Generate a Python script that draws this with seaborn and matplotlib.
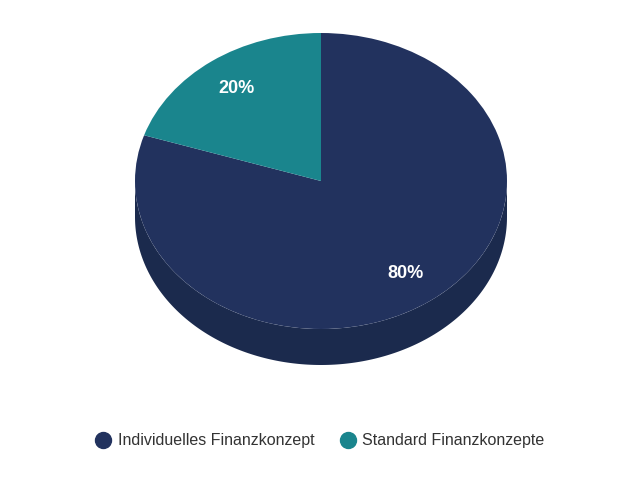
import numpy as np
import matplotlib
matplotlib.use("Agg")
import matplotlib.pyplot as plt
from matplotlib.lines import Line2D
import seaborn as sns

labels = ["Individuelles Finanzkonzept", "Standard Finanzkonzepte"]
values = [80, 20]
colors = ["#22325e", "#1a858d"]
side_color = "#1b2a4d"

sns.set_theme(style="white")
plt.rcParams["font.family"] = ["Liberation Sans", "DejaVu Sans"]

fig = plt.figure(figsize=(6.4, 4.8), dpi=100)
ax = fig.add_axes([0, 0, 1, 1])

# pixel geometry of the tilted pie
cx, cy, rx, ry, depth = 321, 181, 186, 148, 36

# side wall (front half of the cylinder)
d = depth / ry
t = np.linspace(np.pi, 2 * np.pi, 200)
xs = np.concatenate([np.cos(t), np.cos(t[::-1])])
ys = np.concatenate([np.sin(t) - d, np.sin(t[::-1])])
ax.fill(xs, ys, color=side_color, lw=0, zorder=1)

# top surface: 80% slice clockwise from 12 o'clock, 20% slice after it
wedges, texts, autotexts = ax.pie(
    values, colors=colors, startangle=90, counterclock=False,
    autopct="%d%%", pctdistance=0.77, radius=1, frame=True,
    wedgeprops=dict(linewidth=0),
    textprops=dict(color="white", fontsize=13, fontweight="bold"),
)
for w in wedges:
    w.set_zorder(2)
for a in autotexts:
    a.set_zorder(3)
ax.set_xlim(-cx / rx, (640 - cx) / rx)
ax.set_ylim(-(480 - cy) / ry, cy / ry)
ax.set_aspect("auto")
ax.axis("off")

handles = [Line2D([0], [0], marker="o", linestyle="", markersize=11.5,
                  markerfacecolor=c, markeredgecolor=c) for c in colors]
fig.legend(handles, labels, loc="center", bbox_to_anchor=(0.5, 1 - 441 / 480),
           ncol=2, frameon=False, fontsize=11.5, labelcolor="#333333",
           handletextpad=0.4, columnspacing=1.6, handlelength=1.0)

fig.savefig("out.png", dpi=100)
